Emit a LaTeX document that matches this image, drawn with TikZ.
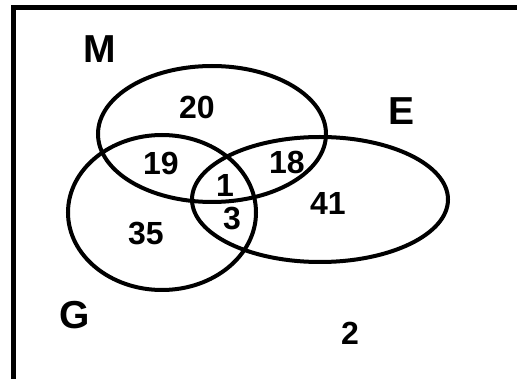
\documentclass[tikz,border=0pt]{standalone}
\usepackage{fontspec}
\setmainfont{Liberation Sans}
\begin{document}
\begin{tikzpicture}[x=1pt,y=-1pt,
  setline/.style={line width=4pt},
  framel/.style={line width=5pt},
  num/.style={inner sep=0pt,font=\fontsize{32}{32}\selectfont\bfseries},
  setlbl/.style={inner sep=0pt,font=\fontsize{39}{39}\selectfont\bfseries}]
\useasboundingbox (0,0) rectangle (517,379);
\coordinate (tl) at (13.5,7.5);
\coordinate (tr) at (517,7.5);
\coordinate (bl) at (13.5,379);
\draw[framel] (tr) -- (tl) -- (bl);
\draw[setline] (212,134) ellipse [x radius=114, y radius=68];
\draw[setline] (162,212.5) ellipse [x radius=94, y radius=77.5];
\draw[setline] (320,199.5) ellipse [x radius=128, y radius=62.5];
\node[setlbl] (M) at (100,49) {M};
\node[setlbl] (E) at (402,111) {E};
\node[setlbl] (G) at (75,315) {G};
\node[num] (n20) at (197,107) {20};
\node[num] (n19) at (161,163) {19};
\node[num] (n18) at (287,162) {18};
\node[num] (n1) at (225,185) {1};
\node[num] (n3) at (232,219) {3};
\node[num] (n41) at (328,203) {41};
\node[num] (n35) at (146,234) {35};
\node[num] (n2) at (350,333) {2};
\end{tikzpicture}
\end{document}
